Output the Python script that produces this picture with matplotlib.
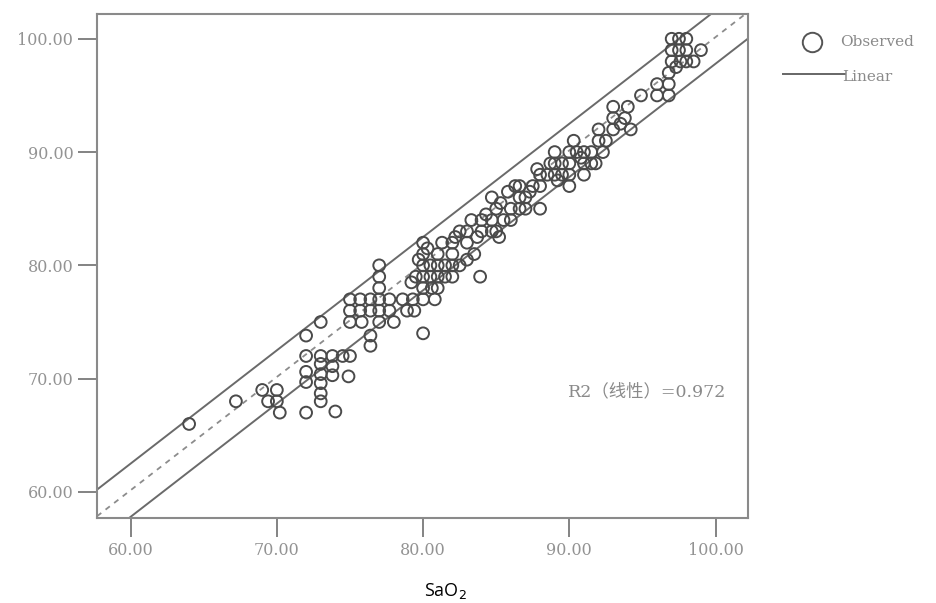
import numpy as np
import matplotlib.pyplot as plt
from matplotlib.lines import Line2D

# observed points (SaO2, SpO2)
sao2 = [64, 67.2, 69, 70, 69.4, 70, 70.2, 72, 72, 72, 72, 72, 73, 73, 73.8, 74.5, 75,
        73, 73, 73, 73, 73, 73.8, 73.8, 74.9, 74,
        77, 77, 77, 75, 75.7, 76.4, 77, 77.7, 75, 75.7, 76.4, 77, 77.7, 75, 75.8, 77,
        76.4, 76.4, 78.6, 79.3, 78.9, 78, 79.4,
        79.5, 80, 80, 80.5, 80, 80, 80, 80.5, 81, 81, 81.5, 82, 82, 82, 82.5, 83, 83,
        83.5, 81, 80, 80.8, 80, 83.9, 81, 81.5, 82, 82.5, 83,
        79.7, 80.3, 81.3, 82.2, 83.3, 83.7, 84.3, 79.2, 80.6,
        84, 84.7, 85, 84, 84.7, 85, 84.7, 85.5, 86, 86, 86.6, 86.6, 86.6, 87, 87.5,
        88, 88, 88, 88.5, 89, 89, 89, 89.5, 89.5, 90, 90, 90, 90, 90.5, 91, 91, 91,
        91.5, 91.5, 92, 92, 91.8, 92.5, 93, 93, 93, 93.8, 94.2, 94, 94.9, 96, 96,
        96.8, 96.8, 96.8, 97, 97, 97, 97.5, 98, 98, 98, 97.5, 98.5, 99, 97.6,
        85.3, 85.8, 86.3, 87.3, 87.8, 88.7, 89.2, 90.3, 90.8, 92.3, 87, 85.2, 93.5, 97.3]
spo2 = [66, 68, 69, 69, 68, 68, 67, 67, 69.7, 70.6, 72, 73.8, 75, 72, 72, 72, 72,
        71.3, 70.4, 69.6, 68.7, 68, 70.3, 71.1, 70.2, 67.1,
        80, 79, 78, 77, 77, 77, 77, 77, 76, 76, 76, 76, 76, 75, 75, 75,
        73.8, 72.9, 77, 77, 76, 75, 76,
        79, 79, 78, 80, 81, 82, 80, 79, 80, 81, 80, 81, 82, 80, 83, 83, 82,
        81, 78, 77, 77, 74, 79, 79, 79, 79, 80, 80.5,
        80.5, 81.5, 82, 82.5, 84, 82.5, 84.5, 78.5, 78,
        83, 83, 83, 84, 84, 85, 86, 84, 84, 85, 85, 86, 87, 86, 87,
        88, 87, 85, 88, 88, 89, 90, 89, 88, 90, 89, 88, 87, 90, 90, 89, 88,
        90, 89, 92, 91, 89, 91, 92, 93, 94, 93, 92, 94, 95, 95, 96,
        95, 96, 97, 98, 99, 100, 100, 100, 99, 98, 99, 98, 99, 98,
        85.5, 86.5, 87, 86.5, 88.5, 89, 87.5, 91, 89.5, 90, 85, 82.5, 92.5, 97.5]

# fitted line and prediction band
fit_slope = 1.0
fit_intercept = 0.15
band = 2.35
r2_text = "R2（线性）=0.972"

ticks = [60, 70, 80, 90, 100]
lo, hi = 57.7, 102.2

grey = '#8a8a8a'
fams = ['DejaVu Serif', 'Noto Sans CJK SC']
plt.rcParams['font.family'] = fams

fig = plt.figure(figsize=(9.37, 6.03), dpi=100)
ax = fig.add_axes([0.1035, 0.1410, 0.6945, 0.8360])

xs = np.array([lo, hi])
ax.plot(xs, fit_slope * xs + fit_intercept + band, color='#6a6a6a', lw=1.4)
ax.plot(xs, fit_slope * xs + fit_intercept - band, color='#6a6a6a', lw=1.4)
ax.plot(xs, fit_slope * xs + fit_intercept, color='#8c8c8c', lw=1.3, ls=(0, (3, 3)))

ax.scatter(sao2, spo2, s=72, facecolors='none', edgecolors='#4a4a4a', linewidths=1.4, zorder=3)

ax.set_xlim(lo, hi)
ax.set_ylim(lo, 102.2)
ax.set_xticks(ticks)
ax.set_yticks(ticks)
ax.xaxis.set_major_formatter('{x:.2f}')
ax.yaxis.set_major_formatter('{x:.2f}')
ax.tick_params(direction='out', length=14, width=1.3, color='#7a7a7a',
               labelcolor='#939393', labelsize=11.5, pad=3)
for s in ax.spines.values():
    s.set_color('#8a8a8a')
    s.set_linewidth(1.5)

ax.text(95.3, 68.8, r2_text, ha='center', va='center', color=grey, fontsize=12.5)

# legend outside the axes
fig.add_artist(Line2D([812 / 937], [1 - 42 / 603], marker='o', ms=14, mfc='none',
                      mec='#555555', mew=1.4, transform=fig.transFigure))
fig.text(840 / 937, 1 - 42 / 603, "Observed", color=grey, fontsize=11, va='center')
fig.add_artist(Line2D([783 / 937, 845 / 937], [1 - 74 / 603] * 2, color='#666666',
                      lw=1.4, transform=fig.transFigure))
fig.text(842 / 937, 1 - 77 / 603, "Linear", color=grey, fontsize=11, va='center')

fig.text(445 / 937, 1 - 591 / 603, "SaO$_2$", ha='center', va='center', fontsize=13,
         family='Open Sans', color='black')

plt.savefig('out.png', dpi=100)
